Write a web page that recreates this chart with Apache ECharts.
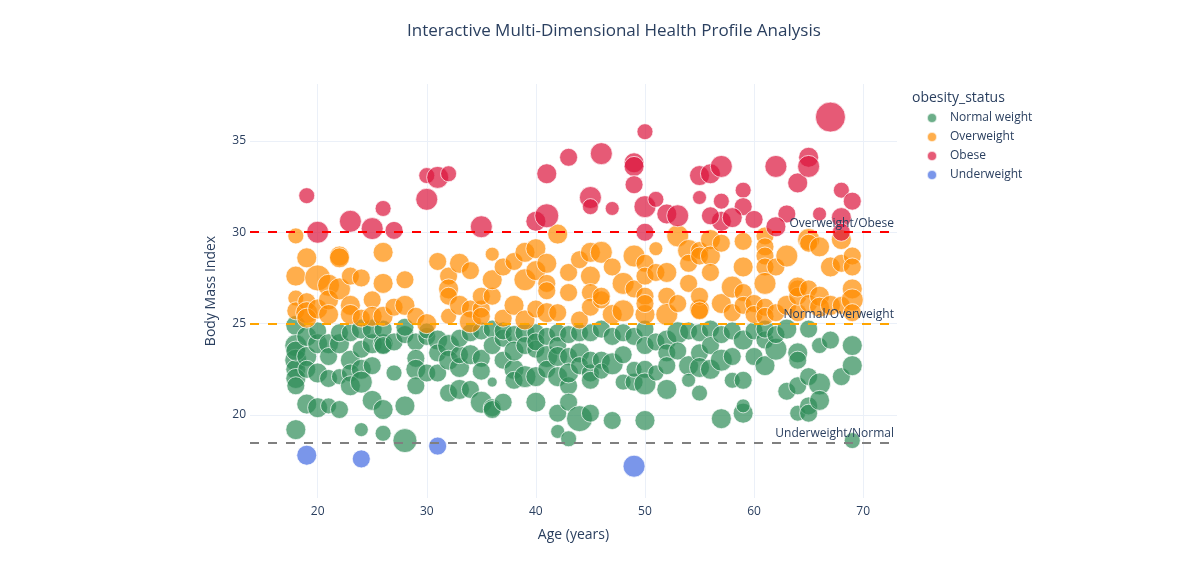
<!DOCTYPE html>
<html>
<head>
<meta charset="utf-8">
<script src="https://cdn.jsdelivr.net/npm/echarts@6/dist/echarts.min.js"></script>
<style>html,body{margin:0;padding:0;background:#fff}#chart{width:1200px;height:570px}</style>
</head>
<body>
<div id="chart"></div>
<script>
// [age, BMI, bubble size metric]
const normalWeight = [
[18,24.9,10],[18,23.8,11],[18,23.0,11],[18,22.5,10],[18,22.0,10],[18,21.6,9],[18,19.2,10],[18,23.5,10],
[19,24.3,10],[19,23.2,10],[19,22.5,9],[19,20.6,10],
[20,23.9,10],[20,22.3,10],[20,20.4,10],[20,24.6,9],
[21,23.9,10],[21,23.2,9],[21,20.5,8],[21,22.0,9],
[22,23.9,10],[22,22.1,8],[22,20.3,9],[22,24.5,9],
[23,23.0,10],[23,24.5,9],[23,22.3,9],[23,21.6,10],
[24,22.5,10],[24,21.8,11],[24,24.7,10],[24,19.2,7],[24,23.6,9],
[25,23.9,10],[25,22.7,9],[25,24.7,10],[25,20.8,10],
[26,23.9,10],[26,20.3,10],[26,19.0,8],[26,24.7,9],[26,23.8,9],
[27,22.3,8],[27,24.0,9],
[28,24.4,9],[28,20.5,10],[28,18.6,12],[28,24.8,9],
[29,24.0,9],[29,23.1,9],[29,22.5,10],[29,21.6,9],
[30,22.3,9],[30,24.3,9],[30,24.6,8],
[31,24.1,10],[31,22.3,9],[31,23.4,9],
[32,23.8,11],[32,21.2,9],[32,23.0,10],
[33,22.6,10],[33,23.3,9],[33,21.4,10],[33,24.2,9],
[34,23.3,10],[34,21.4,9],[34,24.5,9],
[35,23.1,9],[35,22.4,9],[35,20.7,11],[35,24.6,9],
[36,20.4,9],[36,24.7,9],[36,23.8,9],[36,21.8,5],[36,20.3,9],
[37,24.2,9],[37,23.0,9],[37,20.7,9],[37,24.6,9],
[38,22.5,10],[38,21.9,9],[38,24.4,9],[38,23.5,10],
[39,24.5,10],[39,22.1,11],[39,23.8,9],
[40,24.5,9],[40,23.6,9],[40,22.1,10],[40,20.7,10],[40,24.0,9],
[41,24.3,9],[41,23.2,11],[41,22.5,9],
[42,24.5,9],[42,23.8,9],[42,22.1,10],[42,20.1,9],[42,19.1,7],[42,23.2,10],
[43,23.2,9],[43,21.6,9],[43,20.7,9],[43,18.7,8],[43,22.3,10],[43,24.4,9],
[44,24.5,9],[44,23.4,10],[44,19.8,13],[44,22.7,9],
[45,24.5,9],[45,22.3,9],[45,20.1,9],[45,23.0,9],[45,21.9,9],
[46,23.0,9],[46,24.7,9],[46,22.4,8],
[47,22.8,11],[47,19.7,9],[47,24.3,9],
[48,24.5,9],[48,23.3,9],[48,21.8,8],
[49,21.8,9],[49,24.3,9],[49,22.5,8],
[50,24.7,9],[50,22.5,9],[50,21.7,11],[50,19.7,10],[50,23.8,9],
[51,24.0,9],[51,22.3,8],
[52,24.1,10],[52,23.4,9],[52,22.7,9],[52,21.4,10],
[53,24.5,11],[53,23.5,9],
[54,22.7,10],[54,21.9,7],[54,24.6,9],
[55,24.5,9],[55,23.4,9],[55,21.2,8],[55,22.6,10],
[56,24.7,9],[56,22.5,10],[56,23.8,9],
[57,23.0,11],[57,19.8,10],[57,24.4,9],
[58,24.6,9],[58,23.2,9],[58,21.9,8],
[59,24.1,10],[59,21.9,9],[59,20.1,10],[59,20.5,7],
[60,24.6,9],[60,23.2,9],
[61,24.1,9],[61,22.7,10],[61,24.7,9],
[62,23.6,11],[62,24.4,9],
[63,24.7,10],[63,21.3,9],
[64,23.4,10],[64,23.0,9],[64,20.1,8],[64,21.6,9],
[65,24.7,9],[65,20.5,9],[65,22.1,9],[65,20.1,9],
[66,23.8,8],[66,21.7,11],[66,20.8,10],
[67,24.1,9],
[68,22.1,9],
[69,23.8,10],[69,22.7,10],[69,18.6,8]
];
const overweight = [
[18,29.8,8],[18,27.6,10],[18,26.4,8],[18,25.7,9],
[19,28.6,10],[19,26.2,9],[19,25.6,11],[19,25.3,10],
[20,27.5,13],[20,25.8,10],
[21,27.1,11],[21,26.3,10],[21,25.5,10],
[22,28.7,10],[22,28.6,10],[22,26.9,11],
[23,27.6,9],[23,26.0,10],[23,25.5,10],
[24,27.5,9],[24,25.3,9],
[25,26.3,9],[25,25.4,10],
[26,28.9,10],[26,27.2,10],[26,25.4,10],
[27,25.9,9],
[28,27.4,9],[28,26.0,10],
[29,25.4,9],
[30,25.0,10],
[31,28.4,9],
[32,27.6,9],[32,26.9,10],[32,26.5,9],[32,25.4,8],
[33,28.3,10],[33,26.0,10],
[34,27.9,9],[34,25.8,9],[34,25.1,11],
[35,25.8,9],[35,25.4,9],[35,26.5,9],
[36,26.5,9],[36,28.8,7],[36,27.4,10],
[37,28.1,9],[37,25.3,9],
[38,26.0,10],[38,28.4,9],
[39,28.9,10],[39,27.4,11],[39,25.2,10],
[40,29.1,10],[40,27.9,10],[40,25.8,9],
[41,28.3,10],[41,27.2,9],[41,26.8,9],[41,25.6,10],
[42,29.9,10],[42,25.6,9],
[43,26.7,9],[43,27.8,9],
[44,25.2,9],[44,28.5,9],
[45,28.9,10],[45,27.6,10],[45,26.7,9],[45,25.9,9],
[46,28.9,11],[46,26.3,9],[46,26.5,9],
[47,28.1,9],[47,25.5,10],
[48,27.2,11],[48,25.7,11],
[49,28.7,11],[49,26.9,9],
[50,28.3,9],[50,27.6,9],[50,26.5,9],[50,25.5,10],[50,26.1,9],
[51,29.1,7],[51,27.8,9],
[52,27.8,10],[52,26.5,9],[52,25.5,11],
[53,29.8,11],[53,26.1,9],
[54,29.0,11],[54,28.3,9],[54,27.2,9],
[55,25.8,10],[55,29.0,9],[55,28.7,9],[55,26.5,9],[55,25.7,9],
[56,29.6,10],[56,28.7,10],[56,27.8,9],
[57,29.4,9],[57,26.1,10],
[58,27.0,11],[58,25.6,9],
[59,29.5,9],[59,28.1,10],[59,26.7,9],[59,26.0,9],
[60,26.1,9],[60,25.5,9],
[61,29.8,9],[61,29.2,9],[61,28.7,9],[61,28.1,9],[61,27.2,11],[61,25.9,9],[61,25.4,9],
[62,28.1,9],[62,25.6,9],
[63,28.7,11],[63,26.0,10],
[64,26.9,9],[64,25.6,9],[64,26.5,9],[64,27.0,10],
[65,29.6,11],[65,26.9,9],[65,26.1,9],[65,29.4,9],
[66,29.2,10],[66,26.5,10],[66,25.9,10],
[67,28.1,10],[67,26.0,10],
[68,29.6,10],[68,28.3,9],[68,26.0,9],
[69,28.7,9],[69,28.1,9],[69,26.9,10],[69,26.3,11],[69,25.6,9]
];
const obese = [
[19,32.0,8],[20,30.0,11],[23,30.6,11],[25,30.2,11],[26,31.3,8],[27,30.1,9],
[30,33.1,8],[31,33.0,11],[32,33.2,8],[30,31.8,11],[35,30.3,11],
[40,30.6,10],[41,30.9,12],[41,33.2,10],[43,34.1,9],[45,31.9,11],[45,31.4,8],
[46,34.3,11],[47,31.3,7],[49,33.8,10],[49,33.6,10],[50,35.5,8],[49,32.6,9],
[50,31.4,11],[51,31.8,8],[52,31.0,10],[53,30.9,11],[50,30.0,9],
[55,33.1,10],[55,31.9,7],[56,33.2,10],[57,33.6,11],[59,32.3,8],[57,31.7,8],
[59,31.4,9],[62,33.6,11],[64,32.7,10],[65,34.1,10],[65,33.6,11],[57,30.6,10],
[58,30.8,10],[60,30.7,9],[63,31.0,9],[62,30.3,10],[56,30.9,9],[67,36.3,15],
[68,32.3,8],[69,31.7,9],[66,31.0,7],[68,30.8,10],[68,30.0,9]
];
const underweight = [[19,17.8,10],[24,17.6,9],[31,18.3,9],[49,17.2,11]];

const categoryNames = ['Normal weight','Overweight','Obese','Underweight'];
const categoryColors = ['#2E8B57','#FF8C00','#DC143C','#4169E1'];
const xTicks = [20,30,40,50,60,70];
const yTicks = [20,25,30,35];
const thresholds = [
  {value:30, label:'Overweight/Obese', color:'#ff0000'},
  {value:25, label:'Normal/Overweight', color:'#ffa500'},
  {value:18.5, label:'Underweight/Normal', color:'#808080'}
];

const FONT = '"Open Sans", verdana, arial, sans-serif';
const TXT = '#2a3f5f';
const allData = [normalWeight, overweight, obese, underweight];

const chart = echarts.init(document.getElementById('chart'), null, {renderer:'canvas'});
const series = categoryNames.map((name,i)=>({
  name: name,
  type: 'scatter',
  data: allData[i],
  symbolSize: d => d[2]*2,
  itemStyle: {color: categoryColors[i], opacity: 0.7, borderColor:'#ffffff', borderWidth:1},
  emphasis: {disabled: true},
  z: 2 + i*0.01
}));
series.push({
  name: 'thresholds',
  type: 'scatter',
  data: [],
  z: 5,
  silent: true,
  markLine: {
    silent: true,
    symbol: ['none','none'],
    animation: false,
    data: thresholds.map(t=>({
      yAxis: t.value,
      lineStyle: {color: t.color, type: [9,9], width: 2},
      label: {show: true, position: 'insideEndTop', formatter: t.label, color: TXT, fontSize: 12, fontFamily: FONT, distance: 3}
    }))
  }
});

chart.setOption({
  animation: false,
  backgroundColor: '#ffffff',
  textStyle: {fontFamily: FONT},
  title: [
    {text: 'Interactive Multi-Dimensional Health Profile Analysis', left: 402, top: 18,
     textStyle: {fontFamily: FONT, fontSize: 17, fontWeight: 'normal', color: TXT}},
    {text: 'obesity_status', left: 907, top: 86,
     textStyle: {fontFamily: FONT, fontSize: 14, fontWeight: 'normal', color: TXT}}
  ],
  legend: {
    data: categoryNames,
    orient: 'vertical',
    left: 921, top: 107,
    itemWidth: 10, itemHeight: 10, itemGap: 7,
    icon: 'circle',
    textStyle: {fontFamily: FONT, fontSize: 12, color: TXT, padding: [0,0,0,8]}
  },
  grid: {left: 250, right: 303, top: 84, bottom: 72, containLabel: false},
  xAxis: {
    type: 'value', min: 13.8, max: 73.1,
    name: 'Age (years)', nameLocation: 'middle', nameGap: 30,
    nameTextStyle: {fontFamily: FONT, fontSize: 14, color: TXT},
    axisLine: {show: false}, axisTick: {show: false, customValues: xTicks},
    axisLabel: {customValues: xTicks, color: TXT, fontSize: 12, fontFamily: FONT, margin: 8},
    splitLine: {show: true, lineStyle: {color: '#ebf0f8', width: 1}}
  },
  yAxis: {
    type: 'value', min: 15.46, max: 38.11,
    name: 'Body Mass Index', nameLocation: 'middle', nameGap: 32,
    nameTextStyle: {fontFamily: FONT, fontSize: 14, color: TXT},
    axisLine: {show: false}, axisTick: {show: false, customValues: yTicks},
    axisLabel: {customValues: yTicks, color: TXT, fontSize: 12, fontFamily: FONT, margin: 4},
    splitLine: {show: true, lineStyle: {color: '#ebf0f8', width: 1}}
  },
  series: series
});
</script>
</body>
</html>
